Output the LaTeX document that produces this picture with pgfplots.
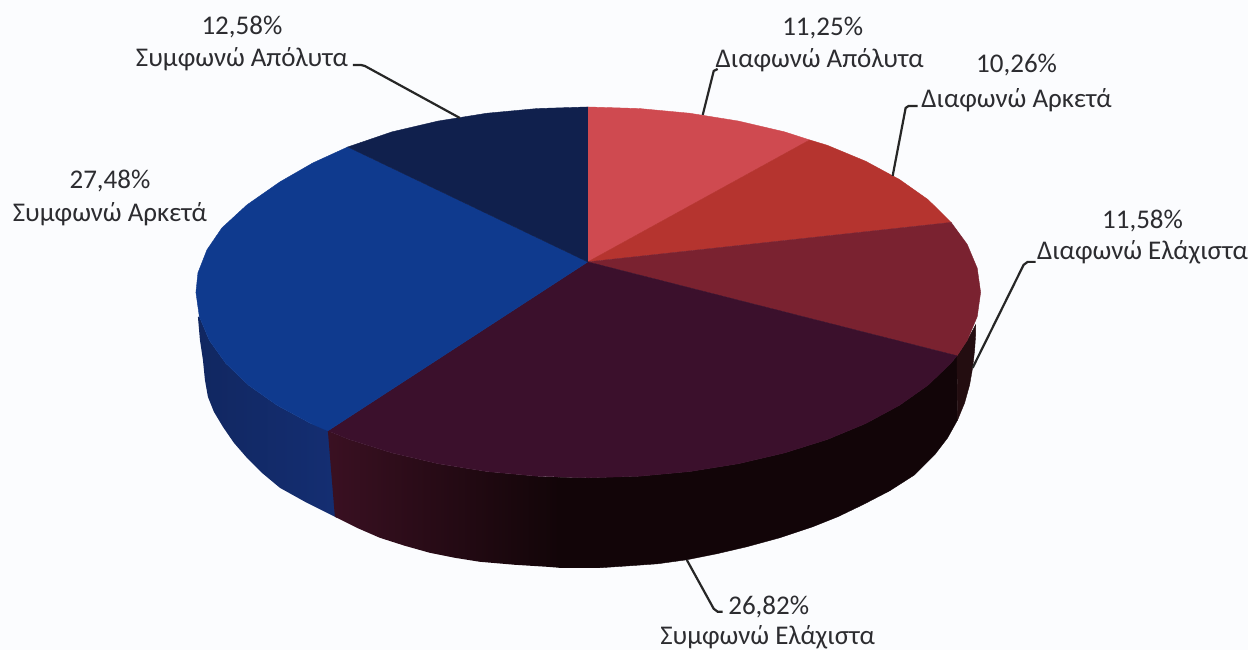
\documentclass[border=0pt]{standalone}
\usepackage{fontspec}
\setmainfont{Carlito}
\usepackage{pgfplots}
\pgfplotsset{compat=1.18}
\definecolor{paper}{HTML}{FBFCFE}
\definecolor{sliceA}{HTML}{CF4A50}
\definecolor{sliceB}{HTML}{B5342F}
\definecolor{sliceC}{HTML}{7A2230}
\definecolor{sliceD}{HTML}{3B102C}
\definecolor{sliceE}{HTML}{0F3A8E}
\definecolor{sliceF}{HTML}{10204D}
\definecolor{sideC}{HTML}{230D10}
\definecolor{sideDa}{HTML}{3A1022}
\definecolor{sideDb}{HTML}{120508}
\definecolor{sideE}{HTML}{142E72}
\definecolor{labeltext}{HTML}{2C2C30}
\tikzset{lab/.style={font=\fontsize{27}{32}\selectfont, text=labeltext, inner sep=0pt}}
\begin{document}
\begin{tikzpicture}
\begin{axis}[
  width=1248pt, height=650pt, scale only axis,
  xmin=0, xmax=1248, ymin=0, ymax=650, y dir=reverse,
  hide axis, clip=false,
  every axis plot/.append style={no markers, forget plot},
]
% sheet
\addplot[fill=paper, draw=none] coordinates {(0,0) (1248,0) (1248,650) (0,650)} -- cycle;

% rim of the disc, left to right
\addplot[left color=sideE!85!black, right color=sideE, draw=none] coordinates {
  (198,317) (199.4,316.7) (209.4,340.5) (225.9,363.5) (248.6,385.3) (277.1,405.4) (311,423.7) (330,429)
  (337,518) (307,503) (280,488) (262,473) (247,458) (234,443) (223,427) (214,412) (208,397) (205,380) (203,360) (200,340)
} -- cycle;
\addplot[left color=sideDa, right color=sideDb, draw=none] coordinates {
  (328,431) (349.5,439.7) (392.2,453.1) (438.3,463.9) (486.9,471.7) (537.3,476.4) (560,477.5)
  (560,568) (547,567) (515,565) (480,562) (455,558) (430,553) (405,546) (380,538) (357,528) (335,517)
} -- cycle;
\addplot[fill=sideDb, draw=sideDb, line width=0.4pt] coordinates {
  (559,477.5) (588.5,478) (639.7,476.4) (690.1,471.7) (738.7,463.9) (784.8,453.1) (827.5,439.7) (866,423.7) (899.9,405.4) (928.4,385.3) (951.1,363.5) (957.4,355.9)
  (958,420) (948,438) (935,455) (915,475) (890,491) (863,505) (838,517) (813,527) (780,538) (747,547) (717,554) (687,560) (658,564) (630,566) (600,568) (575,568) (559,568)
} -- cycle;
\addplot[fill=sideC, draw=sideC, line width=0.4pt] coordinates {
  (957.4,355.9) (967.6,340.5) (976,325) (976,335) (975,350) (973,368) (970,385) (965,403) (958,420)
} -- cycle;

% top face, clockwise from twelve o'clock
\addplot[fill=sliceA, draw=sliceA, line width=0.4pt] coordinates {
  (588,262) (588,107) (639.7,108.6) (690.1,113.3) (738.7,121.1) (784.8,131.9) (810,140)
} -- cycle;
\addplot[fill=sliceB, draw=sliceB, line width=0.4pt] coordinates {
  (588,262) (810,140) (827.5,145.3) (866,161.3) (899.9,179.6) (928.4,199.7) (951.5,222.5)
} -- cycle;
\addplot[fill=sliceC, draw=sliceC, line width=0.4pt] coordinates {
  (588,262) (951.5,222.5) (967.6,244.5) (977.6,268.3) (981,292.5) (977.6,316.7) (967.6,340.5) (957.4,355.9)
} -- cycle;
\addplot[fill=sliceD, draw=sliceD, line width=0.4pt] coordinates {
  (588,262) (957.4,355.9) (951.1,363.5) (928.4,385.3) (899.9,405.4) (866,423.7) (827.5,439.7) (784.8,453.1) (738.7,463.9) (690.1,471.7) (639.7,476.4) (588.5,478) (537.3,476.4) (486.9,471.7) (438.3,463.9) (392.2,453.1) (349.5,439.7) (328,431)
} -- cycle;
\addplot[fill=sliceE, draw=sliceE, line width=0.4pt] coordinates {
  (588,262) (328,431) (311,423.7) (277.1,405.4) (248.6,385.3) (225.9,363.5) (209.4,340.5) (199.4,316.7) (196,292.5) (198,273) (207,250) (222,228) (247,205) (280,182) (313,163) (348,147)
} -- cycle;
\addplot[fill=sliceF, draw=sliceF, line width=0.4pt] coordinates {
  (588,262) (348,147) (392.2,131.9) (438.3,121.1) (486.9,113.3) (537.3,108.6) (588,107)
} -- cycle;

% leader lines
\addplot[black!85, line width=2.2pt] coordinates {(703,115) (714,71) (718,69)};
\addplot[black!85, line width=2.2pt] coordinates {(893,176) (906,108) (909,106) (918,106)};
\addplot[black!85, line width=2.2pt] coordinates {(973,368) (1024,265) (1028,262) (1036,262)};
\addplot[black!85, line width=2.2pt] coordinates {(687,560) (714,609) (718,612) (723,612)};
\addplot[black!85, line width=2.2pt] coordinates {(460,118) (365,66) (361,65) (353,65)};

% labels
\node[lab] at (axis cs:823,28) {11,25\%};
\node[lab] at (axis cs:820,60) {Διαφωνώ Απόλυτα};
\node[lab] at (axis cs:1017,65) {10,26\%};
\node[lab] at (axis cs:1017,100) {Διαφωνώ Αρκετά};
\node[lab] at (axis cs:1143,221) {11,58\%};
\node[lab] at (axis cs:1143,252) {Διαφωνώ Ελάχιστα};
\node[lab] at (axis cs:769,607) {26,82\%};
\node[lab] at (axis cs:768,638) {Συμφωνώ Ελάχιστα};
\node[lab] at (axis cs:110,181) {27,48\%};
\node[lab] at (axis cs:110,214) {Συμφωνώ Αρκετά};
\node[lab] at (axis cs:242,27) {12,58\%};
\node[lab] at (axis cs:242,59) {Συμφωνώ Απόλυτα};
\end{axis}
\end{tikzpicture}
\end{document}
